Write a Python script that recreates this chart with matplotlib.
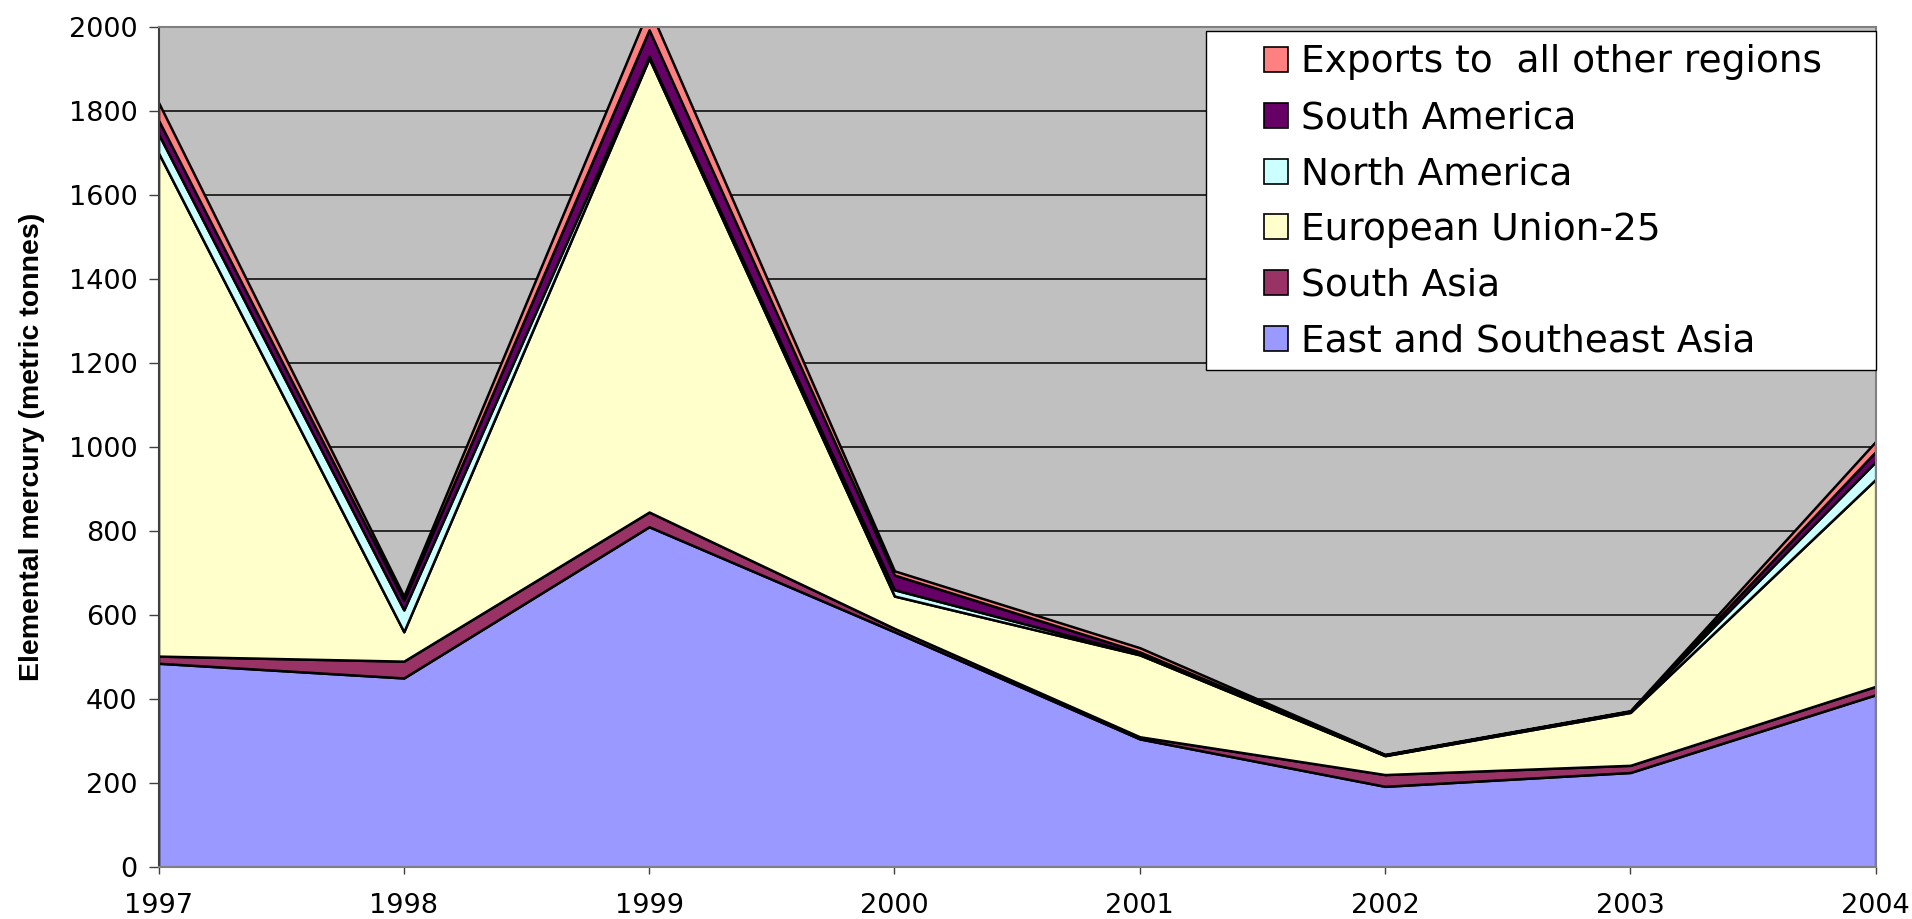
"""Stacked area chart: elemental mercury exports by destination region, 1997-2004."""

import matplotlib

matplotlib.use("Agg")
import matplotlib.pyplot as plt
from matplotlib.patches import Patch, Rectangle

# ---------------------------------------------------------------------------
# Data (metric tonnes)
# ---------------------------------------------------------------------------

years = [1997, 1998, 1999, 2000, 2001, 2002, 2003, 2004]

east_se_asia = [485, 450, 810, 560, 305, 192, 225, 410]
south_asia = [17, 40, 35, 8, 5, 28, 17, 20]
eu25 = [1198, 70, 1080, 77, 195, 45, 126, 493]
north_america = [45, 52, 5, 15, 2, 1, 2, 42]
south_america = [33, 23, 63, 35, 5, 1, 1, 24]
other_regions = [42, 10, 52, 10, 10, 1, 1, 24]

series_labels = [
    "East and Southeast Asia",
    "South Asia",
    "European Union-25",
    "North America",
    "South America",
    "Exports to  all other regions",
]
series_colors = ["#9999FF", "#993366", "#FFFFCC", "#CCFFFF", "#660066", "#FF8080"]

y_ticks = [0, 200, 400, 600, 800, 1000, 1200, 1400, 1600, 1800, 2000]

# ---------------------------------------------------------------------------
# Figure
# ---------------------------------------------------------------------------

fig = plt.figure(figsize=(19.12, 9.19), dpi=100)
ax = fig.add_axes([0.0829, 0.0566, 0.8981, 0.9142])
ax.set_facecolor("#C0C0C0")

ax.stackplot(
    years,
    east_se_asia,
    south_asia,
    eu25,
    north_america,
    south_america,
    other_regions,
    colors=series_colors,
    edgecolor="black",
    linewidth=1.8,
    zorder=3,
)

ax.set_xlim(years[0], years[-1])
ax.set_ylim(0, 2000)
ax.set_xticks(years)
ax.set_xticklabels([str(y) for y in years], fontsize=19.5, family="DejaVu Sans")
ax.set_yticks(y_ticks)
ax.set_yticklabels([str(v) for v in y_ticks], fontsize=19.5, family="DejaVu Sans")
ax.tick_params(axis="y", length=7, width=1, pad=8, color="#404040")
ax.tick_params(axis="x", length=5, width=1, pad=14, color="#404040")

ax.grid(axis="y", color="black", linewidth=1.1, zorder=1)
ax.set_axisbelow(True)

for side in ("top", "right", "bottom"):
    ax.spines[side].set_color("#808080")
    ax.spines[side].set_linewidth(1.5)
ax.spines["left"].set_color("#404040")
ax.spines["left"].set_linewidth(1.5)
for sp in ax.spines.values():
    sp.set_zorder(5)

ax.set_ylabel(
    "Elemental mercury (metric tonnes)",
    fontsize=20.5,
    fontweight="bold",
    family="Liberation Sans",
    labelpad=17,
)

# Legend box drawn separately so the horizontal padding can be wider
ax.add_patch(
    Rectangle(
        (0.610, 0.592),
        0.390,
        0.4036,
        transform=ax.transAxes,
        facecolor="white",
        edgecolor="black",
        linewidth=1.0,
        zorder=9,
        clip_on=False,
    )
)

handles = [
    Patch(facecolor=c, edgecolor="black", linewidth=1.2)
    for c in series_colors
][::-1]
leg = ax.legend(
    handles,
    series_labels[::-1],
    loc="upper left",
    bbox_to_anchor=(0.6435, 0.979),
    borderaxespad=0,
    borderpad=0,
    frameon=False,
    prop={"family": "DejaVu Sans", "size": 27},
    handlelength=0.65,
    handleheight=0.65,
    handletextpad=0.35,
    labelspacing=0.53,
)
leg.set_zorder(10)

fig.savefig("out.png", dpi=100)
plt.close(fig)
